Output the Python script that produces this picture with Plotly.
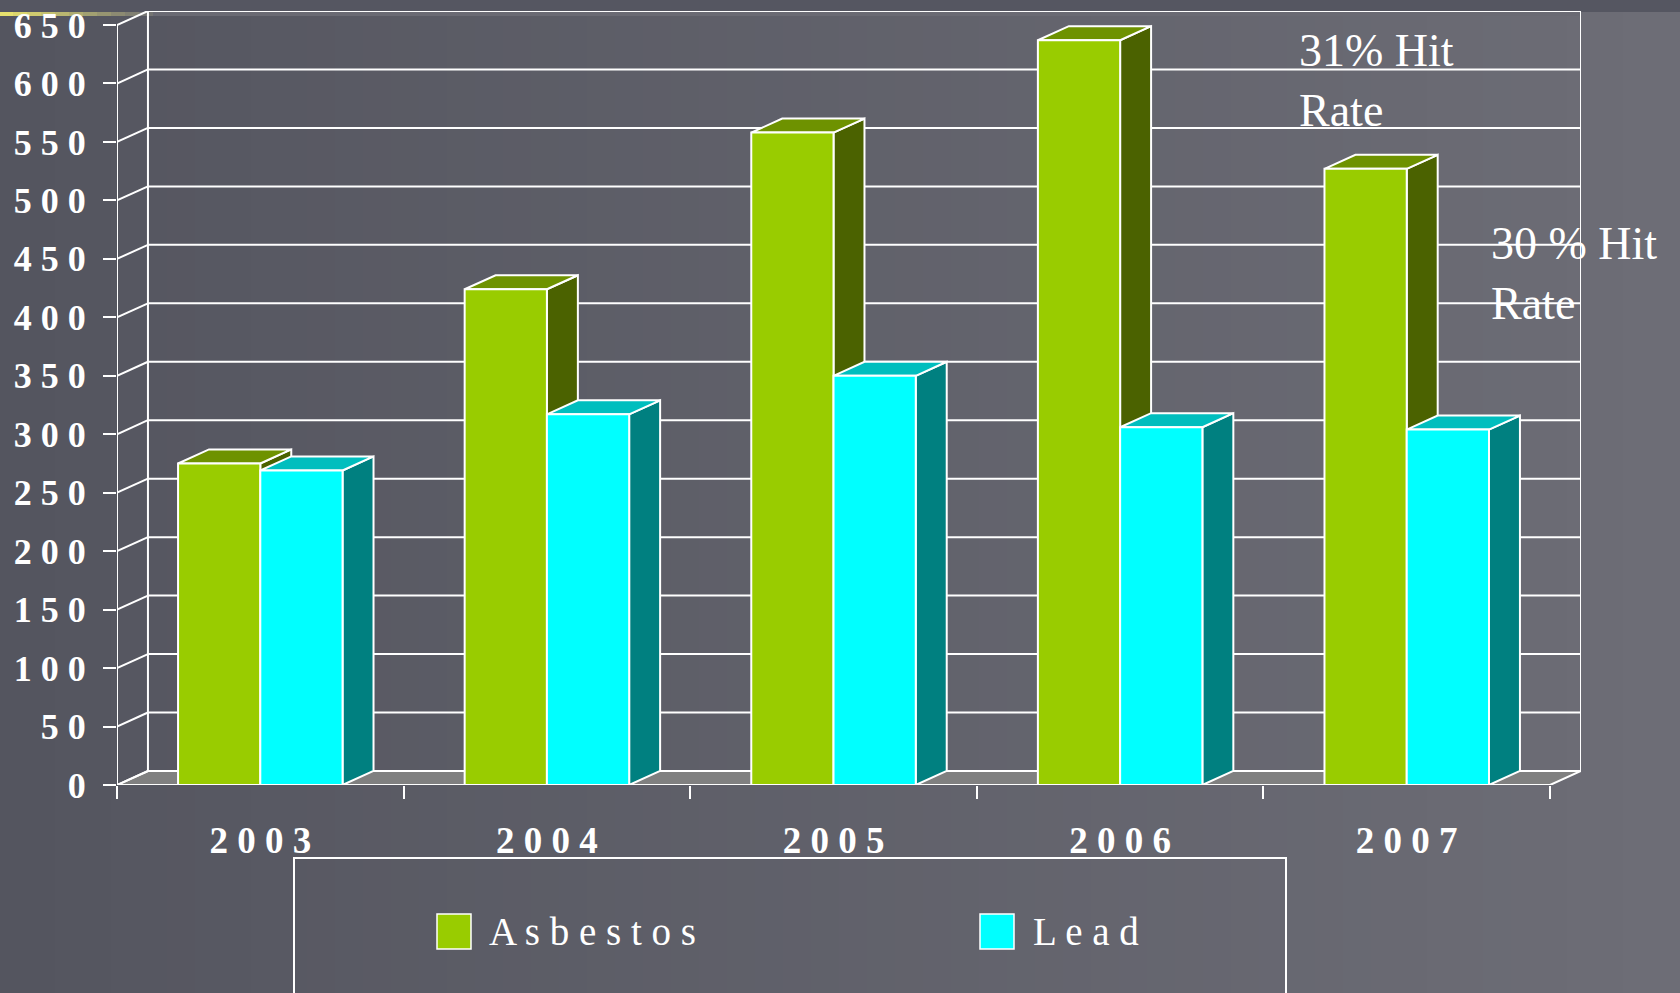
import plotly.graph_objects as go

# ---------------- data ----------------
years = ["2003", "2004", "2005", "2006", "2007"]
asbestos = [275, 424, 558, 637, 527]
lead = [269, 317, 350, 306, 304]
y_ticks = list(range(0, 651, 50))
series_names = ["Asbestos", "Lead"]
note_1 = "31% Hit<br>Rate"
note_2 = "30 % Hit<br>Rate"

# ---------------- style / geometry ----------------
FIG_W, FIG_H = 1680, 993
L_PX, R_PX, T_PX, B_PX = 117, 1581, 11, 785
DX, DY = 0.108, 12.0          # depth offset (category units, value units)
GAP, BW = 0.213, 0.287         # gap before first bar, bar width (category units)
NCAT = len(years)
XMAX = NCAT + DX
YMAX = y_ticks[-1] + DY

GREEN = dict(front="#99CC00", top="#6E9200", side="#4B6200")
CYAN = dict(front="#00FFFF", top="#00BEBE", side="#008080")
WHITE = "#FFFFFF"
FONT = "Liberation Serif"


def spaced(s):
    return " ".join(list(s))


def pxx(x):
    return (x - L_PX) / (R_PX - L_PX)


def pxy(y):
    return (B_PX - y) / (B_PX - T_PX)


fig = go.Figure()


def add_poly(polys, color, lw=2):
    xs, ys = [], []
    for p in polys:
        for (a, b) in p:
            xs.append(a)
            ys.append(b)
        xs.append(p[0][0])
        ys.append(p[0][1])
        xs.append(None)
        ys.append(None)
    fig.add_trace(go.Scatter(x=xs, y=ys, mode="lines", fill="toself",
                             fillcolor=color, line=dict(color=WHITE, width=lw),
                             hoverinfo="skip", showlegend=False))


def add_lines(segs, lw=2):
    xs, ys = [], []
    for (a, b) in segs:
        xs += [a[0], b[0], None]
        ys += [a[1], b[1], None]
    fig.add_trace(go.Scatter(x=xs, y=ys, mode="lines",
                             line=dict(color=WHITE, width=lw),
                             hoverinfo="skip", showlegend=False))


# floor
add_poly([[(0, 0), (NCAT, 0), (NCAT + DX, DY), (DX, DY)]], "#808080")

# walls: gridlines on back wall, diagonals on side wall, edges
segs = []
for v in y_ticks:
    segs.append(((DX, v + DY), (NCAT + DX, v + DY)))
    segs.append(((0, v), (DX, v + DY)))
segs.append(((DX, DY), (DX, y_ticks[-1] + DY)))
segs.append(((NCAT + DX, DY), (NCAT + DX, y_ticks[-1] + DY)))
segs.append(((0, 0), (0, y_ticks[-1])))
segs.append(((0, 0), (NCAT, 0)))
add_lines(segs)


def bar_faces(values, offset):
    fronts, tops, sides = [], [], []
    for i, v in enumerate(values):
        x0 = i + GAP + offset * BW
        x1 = x0 + BW
        fronts.append([(x0, 0), (x1, 0), (x1, v), (x0, v)])
        tops.append([(x0, v), (x1, v), (x1 + DX, v + DY), (x0 + DX, v + DY)])
        sides.append([(x1, 0), (x1 + DX, DY), (x1 + DX, v + DY), (x1, v)])
    return fronts, tops, sides


for k, (vals, col) in enumerate([(asbestos, GREEN), (lead, CYAN)]):
    fr, tp, sd = bar_faces(vals, k)
    add_poly(sd, col["side"])
    add_poly(tp, col["top"])
    add_poly(fr, col["front"])

# invisible trace to carry the tick axis x2
fig.add_trace(go.Scatter(x=[0, NCAT], y=[0, 0], xaxis="x2", mode="lines",
                         line=dict(width=0), hoverinfo="skip", showlegend=False))

# ---------------- background ----------------
shapes = []
N = 60
c0 = (84, 85, 95)
c1 = (109, 109, 118)
for j in range(N):
    t = j / (N - 1)
    col = "rgb(%d,%d,%d)" % tuple(round(c0[m] + (c1[m] - c0[m]) * t) for m in range(3))
    xa = j * FIG_W / N - 1
    xb = (j + 1) * FIG_W / N + 1
    shapes.append(dict(type="rect", xref="paper", yref="paper", layer="below",
                       x0=pxx(xa), x1=pxx(xb), y0=pxy(FIG_H + 2), y1=pxy(-2),
                       fillcolor=col, line=dict(width=0)))
# top decoration
shapes.append(dict(type="rect", xref="paper", yref="paper", layer="below",
                   x0=pxx(-2), x1=pxx(FIG_W + 2), y0=pxy(12), y1=pxy(-2),
                   fillcolor="#555661", line=dict(width=0)))
shapes.append(dict(type="rect", xref="paper", yref="paper", layer="below",
                   x0=pxx(0), x1=pxx(1580), y0=pxy(16), y1=pxy(12),
                   fillcolor="#6A6A73", line=dict(width=0)))
ya = (230, 225, 110)
yb = (106, 106, 115)
for j in range(12):
    t = j / 11
    col = "rgb(%d,%d,%d)" % tuple(round(ya[m] + (yb[m] - ya[m]) * t) for m in range(3))
    shapes.append(dict(type="rect", xref="paper", yref="paper", layer="below",
                       x0=pxx(j * 14 - 1), x1=pxx(j * 14 + 15), y0=pxy(16), y1=pxy(12),
                       fillcolor=col, line=dict(width=0)))

# legend box
shapes.append(dict(type="rect", xref="paper", yref="paper", layer="above",
                   x0=pxx(294), x1=pxx(1286), y0=pxy(1010), y1=pxy(858),
                   fillcolor="rgba(0,0,0,0)", line=dict(color=WHITE, width=2)))
leg_sq = [(437, GREEN["front"]), (980, CYAN["front"])]
for (lx, col) in leg_sq:
    shapes.append(dict(type="rect", xref="paper", yref="paper", layer="above",
                       x0=pxx(lx), x1=pxx(lx + 34), y0=pxy(949), y1=pxy(914),
                       fillcolor=col, line=dict(color=WHITE, width=1.5)))

annotations = []
for (lx, name) in zip([487, 1031], series_names):
    annotations.append(dict(xref="paper", yref="paper", x=pxx(lx), y=pxy(932),
                            xanchor="left", yanchor="middle", showarrow=False,
                            text=spaced(name),
                            font=dict(family=FONT, size=39, color=WHITE)))
annotations.append(dict(xref="paper", yref="paper", x=pxx(1297), y=pxy(80),
                        xanchor="left", yanchor="middle", showarrow=False, align="left",
                        text=note_1, font=dict(family=FONT, size=46, color=WHITE)))
annotations.append(dict(xref="paper", yref="paper", x=pxx(1489), y=pxy(273),
                        xanchor="left", yanchor="middle", showarrow=False, align="left",
                        text=note_2, font=dict(family=FONT, size=46, color=WHITE)))

y_font = dict(family=FONT, size=36, color=WHITE, weight="bold")
x_font = dict(family=FONT, size=37, color=WHITE, weight="bold")

fig.update_layout(
    width=FIG_W, height=FIG_H,
    margin=dict(l=L_PX, r=FIG_W - R_PX, t=T_PX, b=FIG_H - B_PX, pad=0,
                autoexpand=False),
    paper_bgcolor="#5E5F69", plot_bgcolor="rgba(0,0,0,0)",
    showlegend=False,
    shapes=shapes, annotations=annotations,
    xaxis=dict(range=[0, XMAX], tickvals=[i + 0.5 for i in range(NCAT)],
               ticktext=[spaced(y) for y in years], ticks="", showgrid=False,
               zeroline=False, showline=False, tickfont=x_font,
               ticklabelstandoff=30, fixedrange=True, automargin=False),
    xaxis2=dict(range=[0, XMAX], overlaying="x", anchor="y", side="bottom",
                tickvals=list(range(NCAT + 1)), ticks="outside", ticklen=13,
                tickwidth=2, tickcolor=WHITE, showticklabels=False,
                showgrid=False, zeroline=False, showline=False, automargin=False),
    yaxis=dict(range=[0, YMAX], tickvals=y_ticks,
               ticktext=[spaced(str(v)) for v in y_ticks], ticks="outside",
               ticklen=13, tickwidth=2, tickcolor=WHITE, showgrid=False,
               zeroline=False, showline=False, tickfont=y_font,
               ticklabelstandoff=10, fixedrange=True, automargin=False),
)

fig.write_html(
    "out.html",
    config={"displayModeBar": False},
    post_script="document.body.style.margin='0';document.body.style.overflow='hidden';",
)
